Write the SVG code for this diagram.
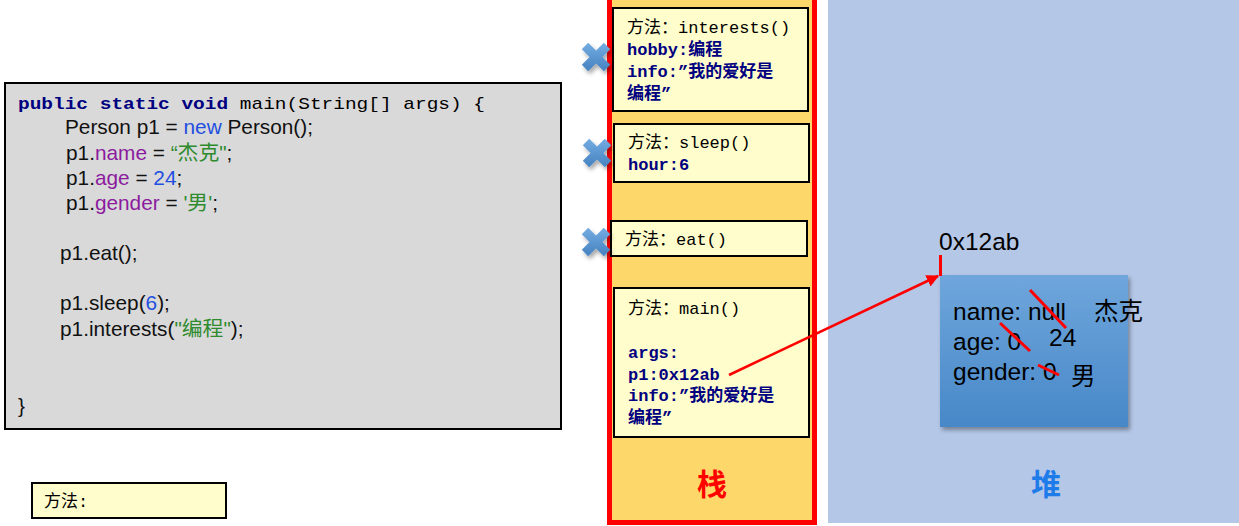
<svg xmlns="http://www.w3.org/2000/svg" width="1239" height="526" viewBox="0 0 1239 526">
<defs>
<style>
.code{font-family:"Liberation Sans","Noto Sans CJK SC",sans-serif;font-size:20.8px;fill:#111}
.mono{font-family:"Liberation Mono","Noto Sans CJK SC",monospace;font-size:17px;fill:#000}
.kw{font-weight:bold;fill:#000080}
.pu{fill:#8B1C9E}.gr{fill:#2E8B2E}.bl{fill:#1F4FE0}
.frame{fill:#FFFDCB;stroke:#000;stroke-width:2}
.var{font-family:"Liberation Mono","Noto Sans CJK SC",monospace;font-size:17px;font-weight:bold;fill:#000080}
.heap{font-family:"Liberation Sans","Noto Sans CJK SC",sans-serif;font-size:24.5px;fill:#000}
.strike{stroke:#FF0000;stroke-width:3}
.xm{stroke:url(#xg);stroke-width:9;stroke-linecap:butt}
</style>
<linearGradient id="objg" x1="0" y1="0" x2="0" y2="1">
<stop offset="0" stop-color="#6FA6DC"/><stop offset="1" stop-color="#4788C8"/>
</linearGradient>
<linearGradient id="xg" x1="0" y1="0" x2="0" y2="1">
<stop offset="0" stop-color="#6FA8DE"/><stop offset="1" stop-color="#4A86C4"/>
</linearGradient>
<filter id="sh" x="-20%" y="-20%" width="150%" height="150%">
<feDropShadow dx="2" dy="3" stdDeviation="2" flood-color="#000" flood-opacity="0.35"/>
</filter>
<marker id="ah" viewBox="0 0 10 10" refX="9" refY="5" markerWidth="5" markerHeight="5" orient="auto" markerUnits="strokeWidth">
<path d="M0,0 L10,5 L0,10 z" fill="#FF0000"/>
</marker>
<g id="xmark"><line class="xm" x1="-11" y1="-11" x2="11" y2="11"/><line class="xm" x1="-11" y1="11" x2="11" y2="-11"/></g>
</defs>
<rect width="1239" height="526" fill="#FFFFFF"/>
<!-- heap area -->
<g id="heap-area">
<rect x="828" y="0" width="411" height="523" fill="#B4C7E7"/>
<text x="1046" y="495" text-anchor="middle" font-family="'Noto Sans CJK SC',sans-serif" font-weight="bold" font-size="30" fill="#1E7BEA">堆</text>
</g>
<!-- stack area -->
<g id="stack-area">
<rect x="609.5" y="-5" width="205" height="527.5" fill="#FDD769" stroke="#FF0000" stroke-width="5"/>
<text x="712" y="495" text-anchor="middle" font-family="'Noto Sans CJK SC',sans-serif" font-weight="bold" font-size="30" fill="#FF0000">栈</text>
</g>
<!-- code box -->
<g id="code">
<rect x="5" y="83" width="556" height="346" fill="#D9D9D9" stroke="#000" stroke-width="2"/>
<text class="mono" x="18" y="109" font-size="18.5" textLength="467" lengthAdjust="spacingAndGlyphs"><tspan class="kw">public static void</tspan> main(String[] args) {</text>
<text class="code" x="65" y="134">Person p1 = <tspan class="bl">new</tspan> Person();</text>
<text class="code" x="66" y="160">p1.<tspan class="pu">name</tspan> = <tspan class="gr">“杰克"</tspan>;</text>
<text class="code" x="66" y="185">p1.<tspan class="pu">age</tspan> = <tspan class="bl">24</tspan>;</text>
<text class="code" x="66" y="210">p1.<tspan class="pu">gender</tspan> = <tspan class="gr">'男'</tspan>;</text>
<text class="code" x="60" y="260">p1.eat();</text>
<text class="code" x="60" y="310">p1.sleep(<tspan class="bl">6</tspan>);</text>
<text class="code" x="60" y="336">p1.interests(<tspan class="gr">"编程"</tspan>);</text>
<text class="code" x="18" y="413">}</text>
</g>
<!-- legend box -->
<g id="legend">
<rect x="32" y="483" width="194" height="35" fill="#FFFDCB" stroke="#000" stroke-width="2"/>
<text class="mono" x="44" y="507" font-size="18">方法:</text>
</g>
<!-- stack frames -->
<g id="frame-interests">
<rect class="frame" x="613" y="8" width="195" height="103"/>
<text class="mono" x="627" y="33">方法：interests()</text>
<text class="var" x="627" y="55">hobby:编程</text>
<text class="var" x="627" y="77">info:”我的爱好是</text>
<text class="var" x="627" y="99">编程”</text>
</g>
<g id="frame-sleep">
<rect class="frame" x="614" y="124" width="195" height="58"/>
<text class="mono" x="628" y="148">方法：sleep()</text>
<text class="var" x="628" y="170">hour:6</text>
</g>
<g id="frame-eat">
<rect class="frame" x="611" y="221" width="196" height="35"/>
<text class="mono" x="625" y="245">方法：eat()</text>
</g>
<g id="frame-main">
<rect class="frame" x="614" y="288" width="195" height="149"/>
<text class="mono" x="628" y="314">方法：main()</text>
<text class="var" x="628" y="358">args:</text>
<text class="var" x="628" y="380">p1:0x12ab</text>
<text class="var" x="628" y="401">info:”我的爱好是</text>
<text class="var" x="628" y="423">编程”</text>
</g>
<!-- cross marks -->
<g id="crosses" filter="url(#sh)">
<use href="#xmark" x="596" y="57"/>
<use href="#xmark" x="597" y="153"/>
<use href="#xmark" x="596" y="242"/>
</g>
<!-- heap object -->
<g id="object">
<text class="heap" x="939" y="250">0x12ab</text>
<rect x="940" y="275" width="188" height="152" fill="url(#objg)" filter="url(#sh)"/>
<text class="heap" x="953" y="320">name: null</text>
<text class="heap" x="953" y="350">age: 0</text>
<text class="heap" x="953" y="380">gender: 0</text>
<text class="heap" x="1094" y="320">杰克</text>
<text class="heap" x="1049" y="346">24</text>
<text class="heap" x="1071" y="385">男</text>
<line class="strike" x1="1030" y1="290" x2="1066" y2="328"/>
<line class="strike" x1="1000" y1="323" x2="1030" y2="351"/>
<line class="strike" x1="1038" y1="365" x2="1059" y2="375"/>
</g>
<!-- connectors -->
<g id="connectors">
<line x1="940.5" y1="255" x2="940.5" y2="276" stroke="#FF0000" stroke-width="3"/>
<line x1="729" y1="375" x2="938" y2="276" stroke="#FF0000" stroke-width="2.5" marker-end="url(#ah)"/>
</g>
</svg>
